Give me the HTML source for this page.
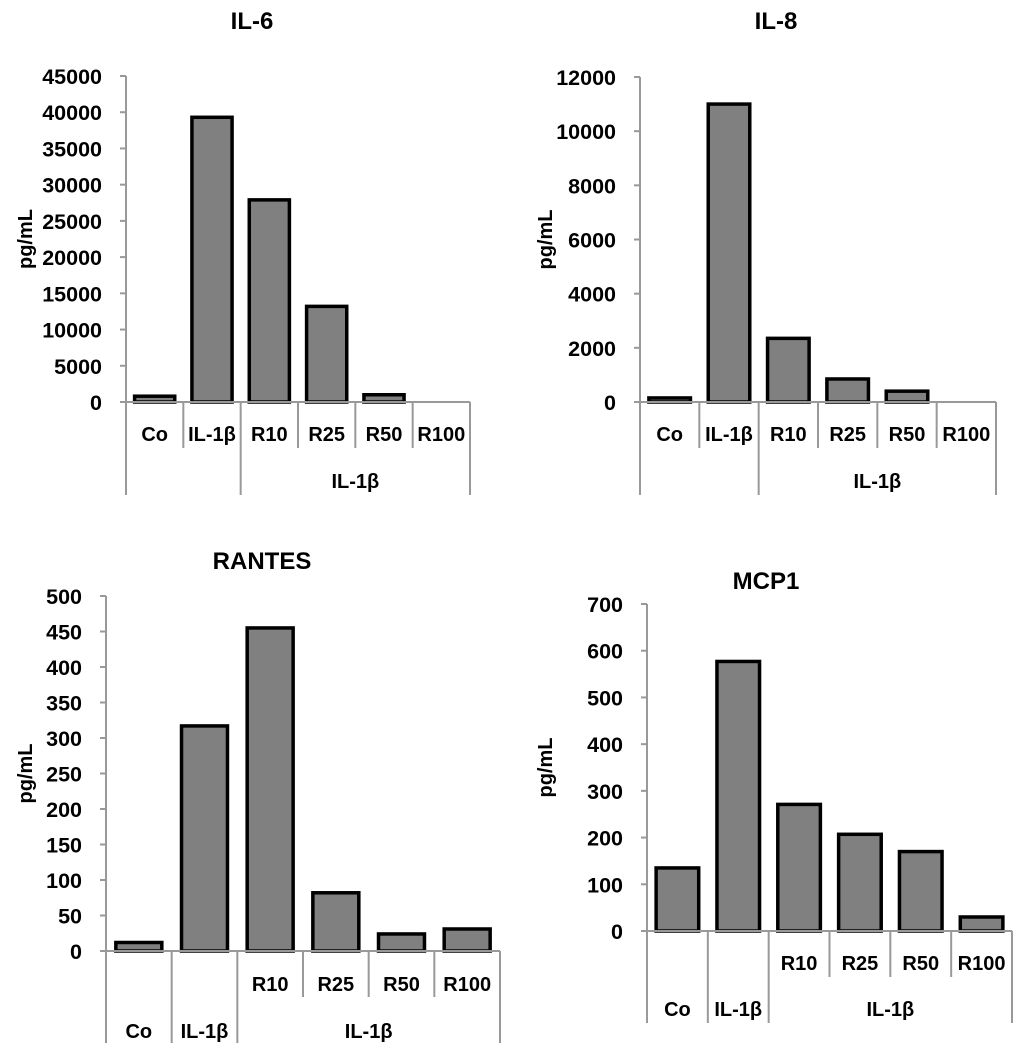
<!DOCTYPE html>
<html><head><meta charset="utf-8"><style>
html,body{margin:0;padding:0;background:#fff;}
svg{display:block;font-family:"Liberation Sans",sans-serif;font-weight:bold;}
</style></head><body>
<svg id="fig" width="1024" height="1049" viewBox="0 0 1024 1049"></svg>
<script>
const categories = ["Co","IL-1β","R10","R25","R50","R100"];
const il6Values = [800, 39300, 27900, 13200, 1000, 0];
const il6Ticks = [0,5000,10000,15000,20000,25000,30000,35000,40000,45000];
const il8Values = [150, 11000, 2350, 850, 400, 0];
const il8Ticks = [0,2000,4000,6000,8000,10000,12000];
const rantesValues = [12, 317, 455, 82, 24, 31];
const rantesTicks = [0,50,100,150,200,250,300,350,400,450,500];
const mcp1Values = [135, 577, 271, 207, 170, 30];
const mcp1Ticks = [0,100,200,300,400,500,600,700];

const NS = "http://www.w3.org/2000/svg";
const svg = document.getElementById("fig");
function mk(tag, attrs, parent){const e=document.createElementNS(NS,tag);for(const k in attrs)e.setAttribute(k,attrs[k]);(parent||svg).appendChild(e);return e;}

function drawChart(cfg, values, ticks){
  const g = mk("g",{});
  
  
  const maxV = ticks[ticks.length-1];
  const yS = v => cfg.y0 - (v/maxV)*(cfg.y0-cfg.yTop);
  const cw = (cfg.xR-cfg.x0)/categories.length;
  const xS = i => cfg.x0 + cw*i;
  const t = mk("text",{x:cfg.titleX,y:cfg.titleY,"text-anchor":"middle","font-size":24,fill:"#000"},g);
  t.textContent = cfg.title;
  
  
  const yl = mk("text",{x:0,y:0,"text-anchor":"middle","font-size":20,fill:"#000",transform:`translate(${cfg.ylX},${(cfg.yTop+cfg.y0)/2}) rotate(-90)`},g);
  yl.textContent = "pg/mL";
  
  
  const ax = mk("line",{x1:cfg.x0,y1:cfg.yTop,x2:cfg.x0,y2:cfg.y0,stroke:"#999","stroke-width":2},g);
  
  
  ticks.forEach(v=>{
    const y=yS(v);
    const tk = mk("line",{x1:cfg.x0-6,y1:y,x2:cfg.x0,y2:y,stroke:"#999","stroke-width":2},g);
    
    
    const tl = mk("text",{x:cfg.x0-24,y:y+8,"text-anchor":"end","font-size":21.5,fill:"#000"},g);
    tl.textContent = v;
    
    
  });
  values.forEach((v,i)=>{
    const bw = cw*0.7;
    const x = xS(i)+(cw-bw)/2;
    if (v<=0) return;
    const r = mk("rect",{x:x,y:yS(v),width:bw,height:cfg.y0-yS(v),fill:"#808080",stroke:"#000","stroke-width":3.5},g);
    
    
  });
  const xa = mk("line",{x1:cfg.x0,y1:cfg.y0,x2:cfg.xR,y2:cfg.y0,stroke:"#999","stroke-width":2},g);
  
  
  for(let i=0;i<=categories.length;i++){
    const full = cfg.fullIdx.includes(i);
    const d = mk("line",{x1:xS(i),y1:cfg.y0,x2:xS(i),y2:full?cfg.longB:cfg.shortB,stroke:"#999","stroke-width":2},g);
    
    
  }
  categories.forEach((c,i)=>{
    const row2 = cfg.row2Idx.includes(i);
    const lt = mk("text",{x:xS(i)+cw/2,y:row2?cfg.row2Y:cfg.row1Y,"text-anchor":"middle","font-size":20,fill:"#000"},g);
    lt.textContent = c;
    
    
  });
  const gl = mk("text",{x:(xS(2)+cfg.xR)/2,y:cfg.row2Y,"text-anchor":"middle","font-size":20,fill:"#000"},g);
  gl.textContent = "IL-1β";
  
  
}

drawChart({name:"il6",title:"IL-6",titleX:252,titleY:29,ylX:32,x0:126,xR:470,yTop:76,y0:402,shortB:448,longB:495,row1Y:441,row2Y:488,fullIdx:[0,2,6],row2Idx:[]}, il6Values, il6Ticks);
drawChart({name:"il8",title:"IL-8",titleX:776,titleY:29,ylX:552,x0:640,xR:996,yTop:77,y0:402,shortB:448,longB:495,row1Y:441,row2Y:488,fullIdx:[0,2,6],row2Idx:[]}, il8Values, il8Ticks);
drawChart({name:"rantes",title:"RANTES",titleX:262,titleY:569,ylX:32,x0:106,xR:500,yTop:596,y0:951,shortB:997,longB:1043,row1Y:991,row2Y:1038,fullIdx:[0,1,2,6],row2Idx:[0,1]}, rantesValues, rantesTicks);
drawChart({name:"mcp1",title:"MCP1",titleX:766,titleY:589,ylX:552,x0:647,xR:1012,yTop:604,y0:931,shortB:977,longB:1023,row1Y:970,row2Y:1016,fullIdx:[0,1,2,6],row2Idx:[0,1]}, mcp1Values, mcp1Ticks);
</script>
</body></html>
